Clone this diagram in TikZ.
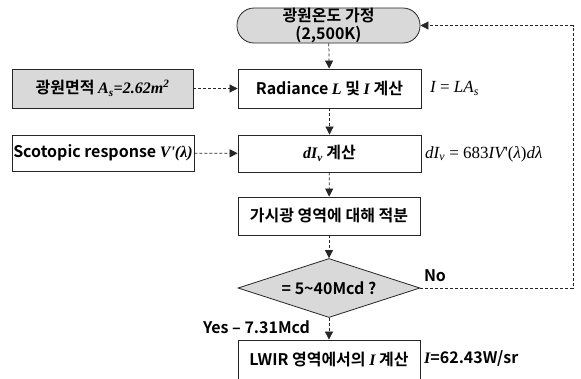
\documentclass[tikz,border=0pt]{standalone}
\usepackage{fontspec}
\setmainfont{Noto Sans CJK KR}[BoldFont={Noto Sans CJK KR Bold}]
\newfontfamily\mathserif{Liberation Serif}
\usetikzlibrary{arrows.meta,shapes.geometric}
\definecolor{boxgray}{HTML}{D9D9D9}
\definecolor{lineclr}{HTML}{262626}
\newcommand{\mi}[1]{{\mathserif\itshape #1}}
\newcommand{\mbi}[1]{{\mathserif\bfseries\itshape #1}}
\begin{document}
\begin{tikzpicture}[x=1pt,y=-1pt,
  flowbox/.style={draw=lineclr,line width=0.8pt,rectangle,inner sep=0pt,minimum width=182pt,font=\fontsize{16}{18}\selectfont\bfseries},
  graybox/.style={flowbox,fill=boxgray},
  conn/.style={draw=lineclr,line width=0.75pt,dash pattern=on 3pt off 2pt,-{Triangle[length=8pt,width=8pt]}},
  lbl/.style={inner sep=0pt,font=\fontsize{16}{18}\selectfont\bfseries},
  eq/.style={inner sep=0pt,anchor=west,font=\fontsize{17}{19}\selectfont\mathserif}]
\useasboundingbox (0,0) rectangle (581,378);
\node[graybox,rounded corners=17pt,minimum height=35pt,minimum width=183pt,align=center,
  font=\fontsize{16}{17.5}\selectfont\bfseries] (start) at (328.5,25.5) {광원온도 가정\\(2,500K)};
\node[flowbox,minimum height=39pt,minimum width=183pt] (rad) at (329.5,88.5) {Radiance \mbi{L} 및 \mbi{I} 계산};
\node[graybox,minimum height=39pt,minimum width=181pt] (area) at (102.5,88.5) {광원면적 \mbi{A\textsubscript{s}=2.62m\textsuperscript{2}}};
\node[flowbox,minimum height=37pt,minimum width=183pt] (dI) at (329.5,153.5) {\mbi{dI\textsubscript{v}} 계산};
\node[flowbox,minimum height=36pt,minimum width=182pt] (scot) at (103,153) {Scotopic response \mbi{V'(\char"03BB)}};
\node[flowbox,minimum height=38pt] (integ) at (329,216) {가시광 영역에 대해 적분};
\node[draw=lineclr,line width=0.8pt,fill=boxgray,diamond,aspect=3.08,inner sep=0pt,
  minimum width=182pt,minimum height=59pt,font=\fontsize{16}{18}\selectfont\bfseries] (dec) at (329,288) {= 5\textasciitilde40Mcd ?};
\node[flowbox,minimum height=40pt] (lwir) at (329,360) {LWIR 영역에서의 \mbi{I} 계산};
\node[eq] (eq1) at (430,88.5) {\itshape I\upshape{} = \itshape LA\textsubscript{s}};
\node[eq] (eq2) at (425,154) {\itshape dI\textsubscript{v}\upshape{} = 683\itshape IV\upshape'(\itshape\char"03BB\upshape)\itshape d\char"03BB};
\node[lbl,anchor=west] (res) at (424,358) {\mbi{I}=62.43W/sr};
\node[lbl] (no) at (435,276) {No};
\node[lbl] (yes) at (256.5,327) {Yes – 7.31Mcd};
\coordinate (c1) at (573,288);
\coordinate (c2) at (573,25.5);
\draw[conn] (start) -- (rad);
\draw[conn] (rad) -- (dI);
\draw[conn] (dI) -- (integ);
\draw[conn] (integ) -- (dec);
\draw[conn] (dec) -- (lwir);
\draw[conn] (area) -- (rad);
\draw[conn] (scot) -- (dI);
\draw[conn] (dec.east) -- (c1) -- (c2) -- (start.east);
\end{tikzpicture}
\end{document}
